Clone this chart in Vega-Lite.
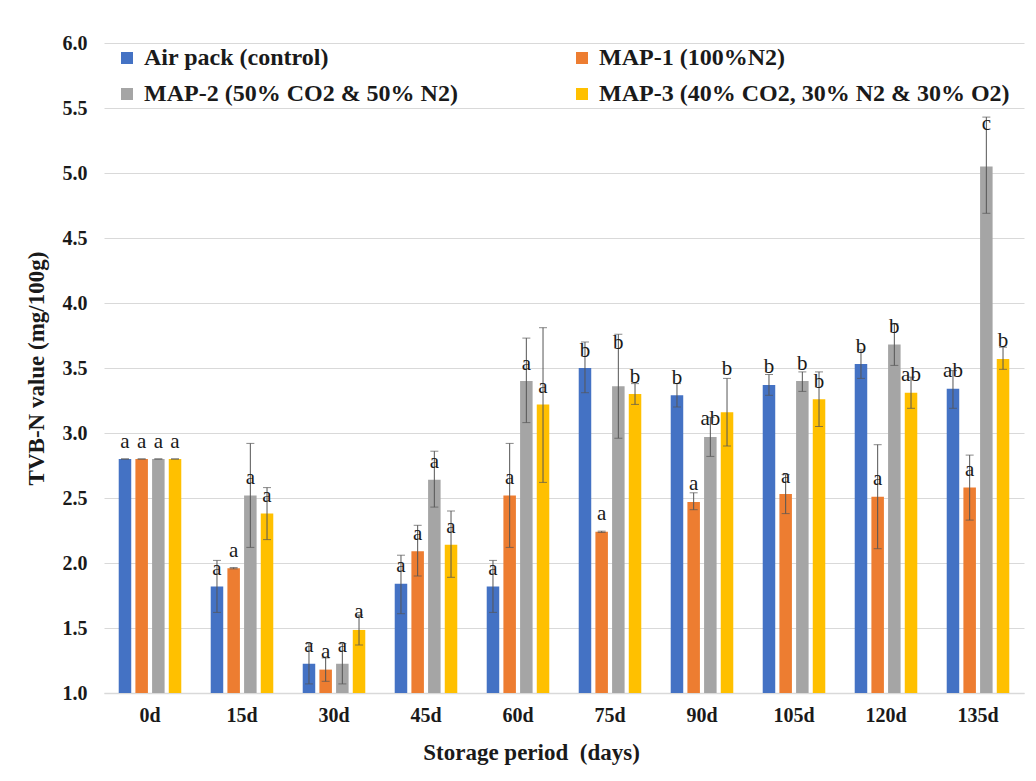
{
  "$schema": "https://vega.github.io/schema/vega-lite/v6.json",
  "width": 920,
  "height": 650,
  "autosize": "none",
  "padding": {"left": 104, "top": 43, "right": 12, "bottom": 88},
  "background": "white",
  "config": {"view": {"stroke": null}, "font": "Liberation Serif"},
  "data": {
    "values": [
      {"day": "0d", "group": "Air pack (control)", "value": 2.8, "lo": 2.8, "hi": 2.8, "label": "a"},
      {"day": "0d", "group": "MAP-1 (100%N2)", "value": 2.8, "lo": 2.8, "hi": 2.8, "label": "a"},
      {"day": "0d", "group": "MAP-2 (50% CO2 & 50% N2)", "value": 2.8, "lo": 2.8, "hi": 2.8, "label": "a"},
      {"day": "0d", "group": "MAP-3 (40% CO2, 30% N2 & 30% O2)", "value": 2.8, "lo": 2.8, "hi": 2.8, "label": "a"},
      {"day": "15d", "group": "Air pack (control)", "value": 1.82, "lo": 1.62, "hi": 2.02, "label": "a"},
      {"day": "15d", "group": "MAP-1 (100%N2)", "value": 1.96, "lo": 1.955, "hi": 1.965, "label": "a"},
      {"day": "15d", "group": "MAP-2 (50% CO2 & 50% N2)", "value": 2.52, "lo": 2.12, "hi": 2.92, "label": "a"},
      {"day": "15d", "group": "MAP-3 (40% CO2, 30% N2 & 30% O2)", "value": 2.38, "lo": 2.18, "hi": 2.58, "label": "a"},
      {"day": "30d", "group": "Air pack (control)", "value": 1.225, "lo": 1.07, "hi": 1.38, "label": "a"},
      {"day": "30d", "group": "MAP-1 (100%N2)", "value": 1.18, "lo": 1.09, "hi": 1.27, "label": "a"},
      {"day": "30d", "group": "MAP-2 (50% CO2 & 50% N2)", "value": 1.225, "lo": 1.07, "hi": 1.38, "label": "a"},
      {"day": "30d", "group": "MAP-3 (40% CO2, 30% N2 & 30% O2)", "value": 1.485, "lo": 1.37, "hi": 1.6, "label": "a"},
      {"day": "45d", "group": "Air pack (control)", "value": 1.84, "lo": 1.61, "hi": 2.06, "label": "a"},
      {"day": "45d", "group": "MAP-1 (100%N2)", "value": 2.09, "lo": 1.9, "hi": 2.29, "label": "a"},
      {"day": "45d", "group": "MAP-2 (50% CO2 & 50% N2)", "value": 2.64, "lo": 2.43, "hi": 2.86, "label": "a"},
      {"day": "45d", "group": "MAP-3 (40% CO2, 30% N2 & 30% O2)", "value": 2.14, "lo": 1.89, "hi": 2.4, "label": "a"},
      {"day": "60d", "group": "Air pack (control)", "value": 1.82, "lo": 1.62, "hi": 2.02, "label": "a"},
      {"day": "60d", "group": "MAP-1 (100%N2)", "value": 2.52, "lo": 2.12, "hi": 2.92, "label": "a"},
      {"day": "60d", "group": "MAP-2 (50% CO2 & 50% N2)", "value": 3.4, "lo": 3.08, "hi": 3.73, "label": "a"},
      {"day": "60d", "group": "MAP-3 (40% CO2, 30% N2 & 30% O2)", "value": 3.22, "lo": 2.62, "hi": 3.81, "label": "a"},
      {"day": "75d", "group": "Air pack (control)", "value": 3.5, "lo": 3.31, "hi": 3.7, "label": "b"},
      {"day": "75d", "group": "MAP-1 (100%N2)", "value": 2.24, "lo": 2.235, "hi": 2.245, "label": "a"},
      {"day": "75d", "group": "MAP-2 (50% CO2 & 50% N2)", "value": 3.36, "lo": 2.96, "hi": 3.76, "label": "b"},
      {"day": "75d", "group": "MAP-3 (40% CO2, 30% N2 & 30% O2)", "value": 3.3, "lo": 3.22, "hi": 3.38, "label": "b"},
      {"day": "90d", "group": "Air pack (control)", "value": 3.29, "lo": 3.2, "hi": 3.38, "label": "b"},
      {"day": "90d", "group": "MAP-1 (100%N2)", "value": 2.47, "lo": 2.41, "hi": 2.54, "label": "a"},
      {"day": "90d", "group": "MAP-2 (50% CO2 & 50% N2)", "value": 2.97, "lo": 2.82, "hi": 3.12, "label": "ab"},
      {"day": "90d", "group": "MAP-3 (40% CO2, 30% N2 & 30% O2)", "value": 3.16, "lo": 2.9, "hi": 3.42, "label": "b"},
      {"day": "105d", "group": "Air pack (control)", "value": 3.37, "lo": 3.29, "hi": 3.45, "label": "b"},
      {"day": "105d", "group": "MAP-1 (100%N2)", "value": 2.53, "lo": 2.38, "hi": 2.68, "label": "a"},
      {"day": "105d", "group": "MAP-2 (50% CO2 & 50% N2)", "value": 3.4, "lo": 3.32, "hi": 3.47, "label": "b"},
      {"day": "105d", "group": "MAP-3 (40% CO2, 30% N2 & 30% O2)", "value": 3.26, "lo": 3.05, "hi": 3.47, "label": "b"},
      {"day": "120d", "group": "Air pack (control)", "value": 3.53, "lo": 3.42, "hi": 3.64, "label": "b"},
      {"day": "120d", "group": "MAP-1 (100%N2)", "value": 2.51, "lo": 2.11, "hi": 2.91, "label": "a"},
      {"day": "120d", "group": "MAP-2 (50% CO2 & 50% N2)", "value": 3.68, "lo": 3.52, "hi": 3.84, "label": "b"},
      {"day": "120d", "group": "MAP-3 (40% CO2, 30% N2 & 30% O2)", "value": 3.31, "lo": 3.19, "hi": 3.43, "label": "ab"},
      {"day": "135d", "group": "Air pack (control)", "value": 3.34, "lo": 3.19, "hi": 3.48, "label": "ab"},
      {"day": "135d", "group": "MAP-1 (100%N2)", "value": 2.58, "lo": 2.33, "hi": 2.83, "label": "a"},
      {"day": "135d", "group": "MAP-2 (50% CO2 & 50% N2)", "value": 5.05, "lo": 4.69, "hi": 5.43, "label": "c"},
      {"day": "135d", "group": "MAP-3 (40% CO2, 30% N2 & 30% O2)", "value": 3.57, "lo": 3.49, "hi": 3.66, "label": "b"}
    ]
  },
  "encoding": {
    "x": {
      "field": "day",
      "type": "nominal",
      "sort": ["0d", "15d", "30d", "45d", "60d", "75d", "90d", "105d", "120d", "135d"],
      "scale": {"paddingInner": 0.32, "paddingOuter": 0.16},
      "axis": {
        "title": "Storage period\u00a0 (days)",
        "titleFont": "Liberation Serif",
        "titleFontSize": 23,
        "titleFontWeight": "bold",
        "titleColor": "#1a1a1a",
        "titlePadding": 16,
        "titleX": 427,
        "labelAngle": 0,
        "labelFont": "Liberation Serif",
        "labelFontSize": 20,
        "labelFontWeight": "bold",
        "labelColor": "#1a1a1a",
        "labelPadding": 12,
        "ticks": false,
        "domain": true,
        "domainColor": "#D9D9D9",
        "domainWidth": 1.5
      }
    },
    "xOffset": {
      "field": "group",
      "type": "nominal",
      "sort": ["Air pack (control)", "MAP-1 (100%N2)", "MAP-2 (50% CO2 & 50% N2)", "MAP-3 (40% CO2, 30% N2 & 30% O2)"],
      "scale": {"paddingInner": 0.25}
    }
  },
  "layer": [
    {
      "mark": {"type": "bar"},
      "encoding": {
        "y": {
          "field": "value",
          "type": "quantitative",
          "scale": {"domain": [1, 6], "zero": false, "nice": false},
          "axis": {
            "title": "TVB-N value (mg/100g)",
            "titleFont": "Liberation Serif",
            "titleFontSize": 23,
            "titleFontWeight": "bold",
            "titleColor": "#1a1a1a",
            "titlePadding": 14,
            "values": [1, 1.5, 2, 2.5, 3, 3.5, 4, 4.5, 5, 5.5, 6],
            "format": ".1f",
            "labelFont": "Liberation Serif",
            "labelFontSize": 20,
            "labelFontWeight": "bold",
            "labelColor": "#1a1a1a",
            "labelPadding": 17,
            "ticks": false,
            "domain": false,
            "grid": true,
            "gridColor": "#D9D9D9",
            "gridWidth": 1.2
          }
        },
        "y2": {"datum": 1},
        "color": {
          "field": "group",
          "type": "nominal",
          "scale": {
            "domain": ["Air pack (control)", "MAP-2 (50% CO2 & 50% N2)", "MAP-1 (100%N2)", "MAP-3 (40% CO2, 30% N2 & 30% O2)"],
            "range": ["#4472C4", "#A5A5A5", "#ED7D31", "#FFC000"]
          },
          "legend": {
            "orient": "none",
            "legendX": 11,
            "legendY": 3,
            "columns": 2,
            "columnPadding": 112,
            "rowPadding": 12,
            "title": null,
            "symbolType": "square",
            "symbolSize": 144,
            "symbolStrokeWidth": 0,
            "labelOffset": 5,
            "labelFont": "Liberation Serif",
            "labelFontSize": 24,
            "labelFontWeight": "bold",
            "labelColor": "#1a1a1a",
            "labelLimit": 700
          }
        }
      }
    },
    {
      "mark": {"type": "rule", "color": "#555555", "strokeWidth": 1},
      "encoding": {
        "y": {"field": "lo", "type": "quantitative"},
        "y2": {"field": "hi"}
      }
    },
    {
      "mark": {"type": "tick", "color": "#555555", "size": 8, "thickness": 1},
      "encoding": {"y": {"field": "lo", "type": "quantitative"}}
    },
    {
      "mark": {"type": "tick", "color": "#555555", "size": 8, "thickness": 1},
      "encoding": {"y": {"field": "hi", "type": "quantitative"}}
    },
    {
      "transform": [{"filter": "!((datum.day === '75d' && datum.group === 'MAP-2 (50% CO2 & 50% N2)') || (datum.day === '135d' && datum.group === 'MAP-2 (50% CO2 & 50% N2)') || (datum.day === '90d' && datum.group === 'MAP-3 (40% CO2, 30% N2 & 30% O2)'))"}],
      "mark": {"type": "text", "dy": -17.5, "baseline": "middle", "font": "Liberation Serif", "fontSize": 21, "color": "#1a1a1a"},
      "encoding": {
        "y": {"field": "value", "type": "quantitative"},
        "text": {"field": "label"}
      }
    },
    {
      "transform": [{"filter": "(datum.day === '75d' && datum.group === 'MAP-2 (50% CO2 & 50% N2)') || (datum.day === '135d' && datum.group === 'MAP-2 (50% CO2 & 50% N2)') || (datum.day === '90d' && datum.group === 'MAP-3 (40% CO2, 30% N2 & 30% O2)')"}],
      "mark": {"type": "text", "dy": -43, "baseline": "middle", "font": "Liberation Serif", "fontSize": 21, "color": "#1a1a1a"},
      "encoding": {
        "y": {"field": "value", "type": "quantitative"},
        "text": {"field": "label"}
      }
    }
  ]
}
